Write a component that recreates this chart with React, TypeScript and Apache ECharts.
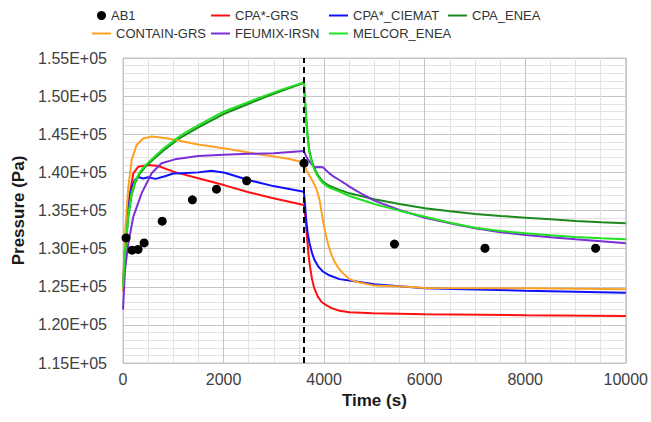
import React, { useEffect, useRef } from "react";
import * as echarts from "echarts";

// ---- Data ----
const ab1T = [60, 180, 300, 420, 780, 1380, 1860, 2460, 3600, 5400, 7200, 9400];
const ab1P = [131400, 129800, 129900, 130750, 133600, 136400, 137800, 138900, 141200, 130600, 130050, 130050];

const cpaGrsT = [0, 40, 106, 205, 304, 502, 701, 1000, 1164, 1495, 2024, 2500, 2990, 3598, 3630, 3660, 3690, 3720, 3760, 3800, 3875, 3950, 4041, 4150, 4306, 4504, 4967, 6006, 8010, 10000];
const cpaGrsP = [124500, 130500, 136000, 139880, 140750, 140970, 140840, 140100, 139800, 139220, 138300, 137400, 136600, 135720, 134000, 131500, 129200, 127600, 126000, 124900, 123700, 123000, 122600, 122200, 121860, 121650, 121520, 121390, 121260, 121160];

const cpaCiematT = [0, 40, 106, 172, 238, 304, 400, 502, 650, 833, 1000, 1164, 1495, 1759, 2024, 2494, 2990, 3598, 3620, 3644, 3675, 3710, 3760, 3810, 3890, 3975, 4100, 4306, 4636, 5000, 6000, 7000, 8000, 9000, 10000];
const cpaCiematP = [124500, 130000, 135500, 138000, 139000, 139400, 139200, 139350, 139150, 139500, 139850, 139900, 140000, 140220, 139950, 139000, 138200, 137450, 135800, 133750, 132000, 130700, 129400, 128500, 127600, 127000, 126500, 126000, 125700, 125320, 124800, 124650, 124480, 124350, 124220];

const cpaEneaT = [0, 40, 106, 170, 240, 330, 440, 600, 800, 1000, 1180, 1500, 2000, 2500, 2800, 3200, 3600, 3620, 3644, 3675, 3710, 3760, 3810, 3890, 3975, 4100, 4306, 4504, 5000, 5496, 6006, 6508, 7004, 7513, 8010, 8506, 9002, 9511, 10000];
const cpaEneaP = [125000, 129000, 134200, 137000, 138600, 139800, 140700, 141700, 142850, 143850, 144700, 145900, 147650, 149000, 149800, 150800, 151750, 149600, 147000, 144600, 142700, 141400, 140500, 139500, 138800, 138250, 137700, 137250, 136470, 135850, 135290, 134890, 134540, 134280, 134060, 133840, 133620, 133450, 133320];

const containGrsT = [0, 40, 106, 172, 271, 403, 569, 833, 1000, 1495, 2000, 2500, 3000, 3313, 3600, 3644, 3700, 3776, 3850, 3909, 3975, 4020, 4075, 4140, 4206, 4290, 4372, 4504, 4636, 5000, 5661, 6006, 8010, 10000];
const containGrsP = [124500, 132000, 138100, 141600, 143600, 144450, 144700, 144500, 144300, 143650, 143150, 142600, 142080, 141750, 141300, 140300, 139700, 138800, 137800, 136400, 133800, 132200, 130700, 129300, 128300, 127400, 126800, 126000, 125650, 125150, 125000, 124850, 124800, 124660];

const feumixT = [0, 40, 106, 205, 370, 569, 767, 1032, 1495, 2000, 2500, 3000, 3598, 3650, 3710, 3810, 3900, 3975, 4100, 4200, 4306, 4400, 4504, 4636, 4800, 5000, 5496, 6006, 6508, 7004, 7513, 8010, 8506, 9002, 9511, 10000];
const feumixP = [122000, 127200, 130700, 134190, 137250, 139880, 141190, 141710, 142150, 142300, 142430, 142510, 142800, 142000, 141400, 140670, 140700, 140670, 139900, 139400, 139000, 138600, 138130, 137600, 137000, 136290, 135070, 134060, 133320, 132660, 132140, 131790, 131480, 131220, 130960, 130700];

const melcorT = [0, 40, 106, 170, 240, 330, 440, 600, 800, 1000, 1180, 1500, 2000, 2500, 2800, 3200, 3600, 3620, 3644, 3675, 3710, 3760, 3810, 3890, 3975, 4100, 4306, 4504, 5000, 5496, 6006, 6508, 7004, 7513, 8010, 8506, 9002, 9511, 10000];
const melcorP = [125000, 129500, 134500, 137300, 138800, 140000, 140900, 141900, 143100, 144100, 145000, 146200, 147950, 149250, 150000, 150950, 151800, 149500, 146900, 144400, 142500, 141200, 140300, 139300, 138600, 138000, 137470, 136900, 135850, 134980, 134190, 133400, 132750, 132310, 132010, 131740, 131520, 131350, 131220];

const dashT = 3600;

const FONT = "'Liberation Sans', Arial, Helvetica, sans-serif";

const zip = (t: number[], p: number[]) => t.map((x, i) => [x, p[i]]);

const fmtY = (v: number) => {
  if (v === 0) return "0.00E+00";
  const e = Math.floor(Math.log10(Math.abs(v)) + 1e-9);
  const m = v / Math.pow(10, e);
  return `${m.toFixed(2)}E+${String(e).padStart(2, "0")}`;
};

const lineSeries = [
  { name: "CPA*-GRS", t: cpaGrsT, p: cpaGrsP, color: "#ff1010" },
  { name: "CPA*_CIEMAT", t: cpaCiematT, p: cpaCiematP, color: "#1010ff" },
  { name: "CPA_ENEA", t: cpaEneaT, p: cpaEneaP, color: "#1b8a1b" },
  { name: "CONTAIN-GRS", t: containGrsT, p: containGrsP, color: "#ffa126" },
  { name: "FEUMIX-IRSN", t: feumixT, p: feumixP, color: "#7b2fd6" },
  { name: "MELCOR_ENEA", t: melcorT, p: melcorP, color: "#22e022" },
];

const legendLayout: { name: string; left: number; top: number; dot?: boolean }[] = [
  { name: "AB1", left: 97, top: 9, dot: true },
  { name: "CPA*-GRS", left: 211, top: 9 },
  { name: "CPA*_CIEMAT", left: 329, top: 9 },
  { name: "CPA_ENEA", left: 448, top: 9 },
  { name: "CONTAIN-GRS", left: 92, top: 27 },
  { name: "FEUMIX-IRSN", left: 211, top: 27 },
  { name: "MELCOR_ENEA", left: 329, top: 27 },
];

export default function App() {
  const ref = useRef<HTMLDivElement>(null);
  useEffect(() => {
    if (!ref.current) return;
    const chart = echarts.init(ref.current, undefined, { renderer: "svg" });
    const option: any = {
      animation: false,
      backgroundColor: "#ffffff",
      textStyle: { fontFamily: FONT },
      grid: {
        left: 123,
        top: 58,
        right: 24,
        bottom: 59,
        show: true,
        borderColor: "#c4c4c4",
        borderWidth: 1,
      },
      legend: legendLayout.map((l) => ({
        left: l.left,
        top: l.top,
        padding: 0,
        selectedMode: false,
        itemWidth: l.dot ? 9 : 19,
        itemHeight: l.dot ? 9 : 2,
        textStyle: { fontFamily: FONT, fontSize: 13, color: "#333333" },
        data: [{ name: l.name, icon: l.dot ? "circle" : "rect" }],
      })),
      xAxis: {
        type: "value",
        min: 0,
        max: 10000,
        interval: 2000,
        name: "Time (s)",
        nameLocation: "middle",
        nameGap: 25,
        nameTextStyle: { fontFamily: FONT, fontSize: 17, fontWeight: "bold", color: "#1a1a1a" },
        axisLine: { show: false },
        axisTick: { show: false },
        axisLabel: { fontFamily: FONT, fontSize: 16, color: "#404040", margin: 8, formatter: (v: number) => String(v) },
        splitLine: { show: true, lineStyle: { color: "#c4c4c4", width: 1 } },
        minorTick: { show: false, splitNumber: 4 },
        minorSplitLine: { show: true, lineStyle: { color: "#e3e3e3", width: 1 } },
      },
      yAxis: {
        type: "value",
        min: 115000,
        max: 155000,
        interval: 5000,
        name: "Pressure (Pa)",
        nameLocation: "middle",
        nameGap: 96,
        nameTextStyle: { fontFamily: FONT, fontSize: 17, fontWeight: "bold", color: "#1a1a1a" },
        axisLine: { show: false },
        axisTick: { show: false },
        axisLabel: { fontFamily: FONT, fontSize: 16, color: "#404040", margin: 16, formatter: fmtY },
        splitLine: { show: true, lineStyle: { color: "#c4c4c4", width: 1 } },
        minorTick: { show: false, splitNumber: 5 },
        minorSplitLine: { show: true, lineStyle: { color: "#e3e3e3", width: 1 } },
      },
      series: [
        ...lineSeries.map((s) => ({
          name: s.name,
          type: "line",
          data: zip(s.t, s.p),
          showSymbol: false,
          symbol: "none",
          smooth: false,
          color: s.color,
          lineStyle: { color: s.color, width: 2 },
          z: 2,
        })),
        {
          name: "AB1",
          type: "scatter",
          data: zip(ab1T, ab1P),
          symbol: "circle",
          symbolSize: 9,
          color: "#000000",
          itemStyle: { color: "#000000", opacity: 1 },
          z: 5,
          markLine: {
            silent: true,
            symbol: ["none", "none"],
            label: { show: false },
            lineStyle: { color: "#000000", type: [6, 4], width: 2 },
            data: [{ xAxis: dashT }],
            z: 3,
          },
        },
      ],
    };
    chart.setOption(option);
    return () => chart.dispose();
  }, []);
  return (
    <div
      ref={ref}
      style={{ position: "fixed", left: 0, top: 0, width: 651, height: 422, background: "#fff" }}
    />
  );
}
